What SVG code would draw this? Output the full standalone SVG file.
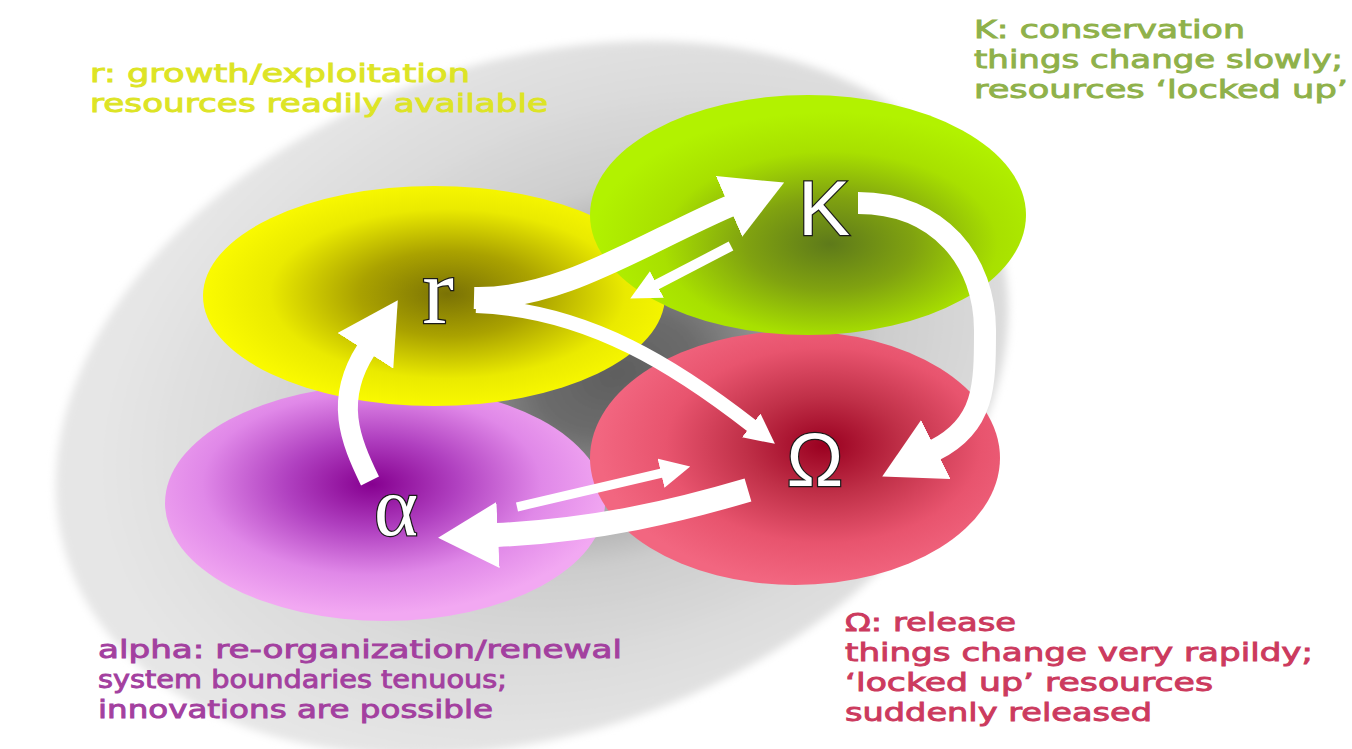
<svg xmlns="http://www.w3.org/2000/svg" width="1352" height="749" viewBox="0 0 1352 749">
<style>
.lbl{font-family:"DejaVu Sans","Verdana",sans-serif;font-size:25.5px;stroke-width:0.9px}
.ylw{fill:#dde425;stroke:#dde425}
.grn{fill:#8fb14a;stroke:#8fb14a}
.red{fill:#cc3a5e;stroke:#cc3a5e}
.pur{fill:#a3409f;stroke:#a3409f}
.sym{fill:#ffffff;stroke:#1b1b1b;stroke-width:2.5px;paint-order:stroke fill;text-anchor:middle}
.sans{font-family:"Liberation Sans","Arial",sans-serif}
.serif{font-family:"Liberation Serif","Times New Roman",serif}
.arr{fill:none;stroke:#ffffff;stroke-linecap:butt}
</style>
<defs>
<radialGradient id="gGrey" cx="0.59" cy="0.51" r="0.55">
<stop offset="0" stop-color="#5e5e5e"/>
<stop offset="0.15" stop-color="#6c6c6c"/>
<stop offset="0.32" stop-color="#a0a0a0"/>
<stop offset="0.5" stop-color="#cdcdcd"/>
<stop offset="0.75" stop-color="#dcdcdc"/>
<stop offset="1" stop-color="#e6e6e6"/>
</radialGradient>
<radialGradient id="gYel" cx="0.53" cy="0.49" fx="0.53" fy="0.49" r="0.55">
<stop offset="0" stop-color="#7a7205"/>
<stop offset="0.35" stop-color="#aaa200"/>
<stop offset="0.7" stop-color="#eaea00"/>
<stop offset="1" stop-color="#fdfd00"/>
</radialGradient>
<radialGradient id="gGrn" cx="0.55" cy="0.62" fx="0.55" fy="0.62" r="0.55">
<stop offset="0" stop-color="#5e7a1a"/>
<stop offset="0.35" stop-color="#80a210"/>
<stop offset="0.7" stop-color="#a8e000"/>
<stop offset="1" stop-color="#b2f200"/>
</radialGradient>
<radialGradient id="gRed" cx="0.57" cy="0.45" fx="0.57" fy="0.45" r="0.55">
<stop offset="0" stop-color="#9a0020"/>
<stop offset="0.35" stop-color="#c03048"/>
<stop offset="0.7" stop-color="#e8546e"/>
<stop offset="1" stop-color="#f26680"/>
</radialGradient>
<radialGradient id="gPur" cx="0.47" cy="0.42" fx="0.47" fy="0.42" r="0.55">
<stop offset="0" stop-color="#860090"/>
<stop offset="0.35" stop-color="#b040c0"/>
<stop offset="0.7" stop-color="#e088e8"/>
<stop offset="1" stop-color="#f2a8f2"/>
</radialGradient>
<filter id="soft" x="-10%" y="-10%" width="120%" height="120%">
<feGaussianBlur stdDeviation="4"/>
</filter>
<marker id="hb" viewBox="0 0 60 66" markerWidth="60" markerHeight="66" refX="1" refY="33" markerUnits="userSpaceOnUse" orient="auto">
<path d="M0,0 L60,33 L0,66 z" fill="#ffffff"/>
</marker>
<marker id="hs" viewBox="0 0 30 30" markerWidth="30" markerHeight="30" refX="1" refY="15" markerUnits="userSpaceOnUse" orient="auto">
<path d="M0,0 L30,15 L0,30 z" fill="#ffffff"/>
</marker>
</defs>
<rect x="0" y="0" width="1352" height="749" fill="#ffffff"/>
<g id="background">
<ellipse cx="532" cy="398" rx="492" ry="335" transform="rotate(-20 532 398)" fill="url(#gGrey)" filter="url(#soft)"/>
</g>
<g id="node-alpha">
<ellipse cx="385" cy="503" rx="220" ry="118" fill="url(#gPur)"/>
<text class="sym serif" x="396" y="535" font-size="84">α</text>
<text class="lbl pur" x="98" y="658" textLength="524" lengthAdjust="spacingAndGlyphs">alpha: re-organization/renewal</text>
<text class="lbl pur" x="98" y="688" textLength="409" lengthAdjust="spacingAndGlyphs">system boundaries tenuous;</text>
<text class="lbl pur" x="98" y="718" textLength="395" lengthAdjust="spacingAndGlyphs">innovations are possible</text>
</g>
<g id="node-r">
<ellipse cx="434" cy="296" rx="231" ry="110" fill="url(#gYel)"/>
<text class="sym serif" x="438" y="323" font-size="95">r</text>
<text class="lbl ylw" x="90" y="82" textLength="380" lengthAdjust="spacingAndGlyphs">r: growth/exploitation</text>
<text class="lbl ylw" x="90" y="112" textLength="458" lengthAdjust="spacingAndGlyphs">resources readily available</text>
</g>
<g id="node-omega">
<ellipse cx="795" cy="458" rx="205" ry="127" fill="url(#gRed)"/>
<text class="sym sans" x="815" y="486" font-size="76">Ω</text>
<text class="lbl red" x="845" y="631" textLength="171" lengthAdjust="spacingAndGlyphs">Ω: release</text>
<text class="lbl red" x="845" y="661" textLength="468" lengthAdjust="spacingAndGlyphs">things change very rapildy;</text>
<text class="lbl red" x="845" y="691" textLength="368" lengthAdjust="spacingAndGlyphs">‘locked up’ resources</text>
<text class="lbl red" x="845" y="721" textLength="307" lengthAdjust="spacingAndGlyphs">suddenly released</text>
</g>
<g id="node-K">
<ellipse cx="808" cy="215" rx="218" ry="120" fill="url(#gGrn)"/>
<text class="sym sans" x="824" y="235" font-size="78">K</text>
<text class="lbl grn" x="974" y="38" textLength="271" lengthAdjust="spacingAndGlyphs">K: conservation</text>
<text class="lbl grn" x="974" y="68" textLength="369" lengthAdjust="spacingAndGlyphs">things change slowly;</text>
<text class="lbl grn" x="974" y="98" textLength="374" lengthAdjust="spacingAndGlyphs">resources ‘locked up’</text>
</g>
<g id="connectors">
<path class="arr" d="M474 298 C560 300, 640 245, 730 206" stroke-width="22" marker-end="url(#hb)"/>
<path class="arr" d="M731 246 L656 285" stroke-width="10" marker-end="url(#hs)"/>
<path class="arr" d="M476 306 C590 310, 680 370, 752 426" stroke-width="14" marker-end="url(#hs)"/>
<path class="arr" d="M858 203 C940 203, 985 262, 985 330 C985 385, 985 425, 935 450" stroke-width="22" marker-end="url(#hb)"/>
<path class="arr" d="M748 490 C680 510, 600 530, 497 535" stroke-width="24" marker-end="url(#hb)"/>
<path class="arr" d="M517 507 L662 473" stroke-width="9" marker-end="url(#hs)"/>
<path class="arr" d="M370 481 C350 440, 334 400, 366 350" stroke-width="20" marker-end="url(#hb)"/>
</g>
</svg>
